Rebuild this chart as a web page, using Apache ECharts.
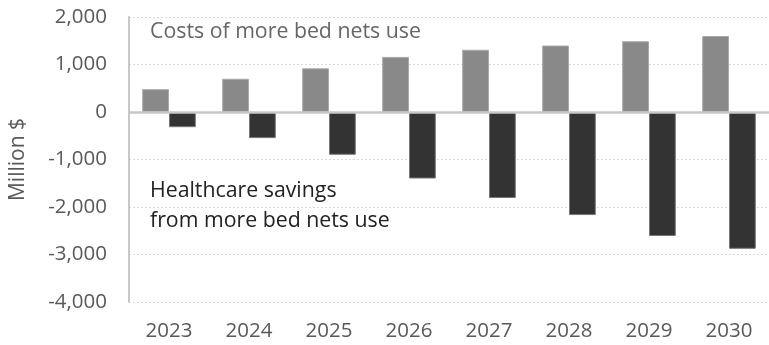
<!DOCTYPE html>
<html><head><meta charset="utf-8">
<script src="https://cdn.jsdelivr.net/npm/echarts@6/dist/echarts.min.js"></script>
<style>html,body{margin:0;padding:0;background:#fff}#c{width:769px;height:345px}</style>
</head><body><div id="c"></div>
<script>
const years = ['2023','2024','2025','2026','2027','2028','2029','2030'];
const costs = [480, 700, 920, 1160, 1310, 1400, 1490, 1600];
const savings = [-320, -550, -900, -1400, -1810, -2170, -2610, -2880];
const yTicks = {min: -4000, max: 2000, interval: 1000};
const costLabel = 'Costs of more bed nets use';
const savingsLabel = ['Healthcare savings', 'from more bed nets use'];
const yName = 'Million $';

const FONT = '"Open Sans", sans-serif';
const chart = echarts.init(document.getElementById('c'));
chart.setOption({
  animation: false,
  grid: {left: 128, right: 0, top: 17, bottom: 43},
  xAxis: {
    type: 'category', data: years, position: 'bottom',
    axisLine: {show: false}, axisTick: {show: false},
    axisLabel: {color: '#595959', fontSize: 20.5, fontFamily: FONT, margin: 19}
  },
  yAxis: {
    type: 'value', min: yTicks.min, max: yTicks.max, interval: yTicks.interval,
    name: yName, nameLocation: 'middle', nameGap: 100, nameRotate: 90,
    nameTextStyle: {color: '#595959', fontSize: 21, fontFamily: FONT},
    axisLine: {show: true, lineStyle: {color: '#c8c8c8', width: 2}},
    axisTick: {show: false},
    axisLabel: {color: '#595959', fontSize: 20.5, fontFamily: FONT, margin: 22,
      formatter: v => (v < 0 ? '-' : '') + Math.abs(v).toLocaleString('en-US')},
    splitLine: {show: true, lineStyle: {color: '#d9d9d9', type: [2, 2], width: 1}}
  },
  series: [
    {type: 'bar', name: 'Costs', data: costs, barGap: '0%', barCategoryGap: '33%',
     itemStyle: {color: '#898989', borderColor: '#a9a9a9', borderWidth: 1},
     markLine: {silent: true, symbol: 'none', label: {show: false},
       lineStyle: {color: '#c8c8c8', width: 2.5, type: 'solid'}, data: [{yAxis: 0}]}},
    {type: 'bar', name: 'Savings', data: savings,
     itemStyle: {color: '#333333', borderColor: '#777777', borderWidth: 1}}
  ],
  graphic: [
    {type: 'text', left: 150, top: 21, style: {text: costLabel, fill: '#666666', font: '21.3px ' + FONT}},
    {type: 'text', left: 150, top: 176, style: {text: savingsLabel.join('\n'), fill: '#222222', font: '21.3px ' + FONT, lineHeight: 30}}
  ]
});
</script></body></html>
